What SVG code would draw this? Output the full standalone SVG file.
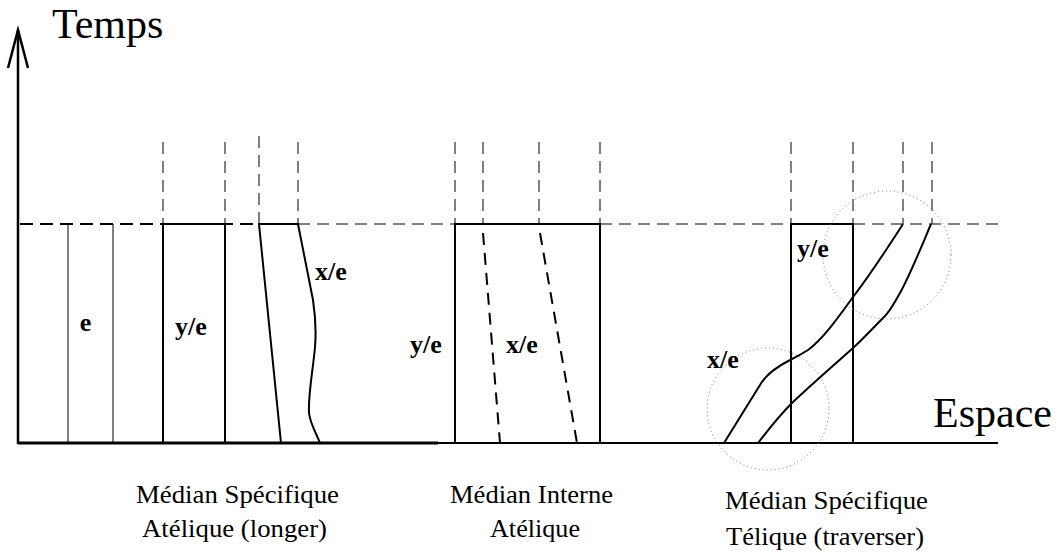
<svg xmlns="http://www.w3.org/2000/svg" width="1060" height="554" viewBox="0 0 1060 554">
<style>
.ax{stroke:#000;fill:none;stroke-linecap:butt}
.ln{stroke:#000;stroke-width:2;fill:none}
.thin{stroke:#000;stroke-width:1;fill:none}
.vd{stroke:#000;stroke-width:1;stroke-dasharray:12 7;fill:none}
.hd{stroke:#000;stroke-width:1;stroke-dasharray:12 7;fill:none}
.hdk{stroke:#000;stroke-width:2;stroke-dasharray:13 7;fill:none}
.sd{stroke:#000;stroke-width:2;stroke-dasharray:12 8;fill:none}
.dot{stroke:#777;stroke-width:1;stroke-dasharray:1 3;fill:none}
.big{font-family:"Liberation Serif","Times New Roman",serif;font-size:42px;fill:#000}
.lab{font-family:"Liberation Serif","Times New Roman",serif;font-size:26px;font-weight:bold;fill:#000;text-anchor:middle}
.cap{font-family:"Liberation Serif","Times New Roman",serif;font-size:25px;fill:#000}
</style>
<rect width="1060" height="554" fill="#fff"/>
<g id="axes">
  <line class="ax" x1="18" y1="444" x2="18" y2="30" stroke-width="2.5"/>
  <polyline class="ax" points="8,68 18,30 28,68" stroke-width="2.5"/>
  <line class="ax" x1="18" y1="443" x2="438" y2="443" stroke-width="3"/>
  <line class="ax" x1="438" y1="443" x2="998" y2="443" stroke-width="2"/>
  <line class="hdk" x1="20" y1="224" x2="259" y2="224"/>
  <line class="hd" x1="298" y1="224" x2="455" y2="224"/>
  <line class="hd" x1="600" y1="224" x2="791" y2="224"/>
  <line class="hd" x1="853" y1="224" x2="1005" y2="224"/>
  <text class="big" x="52" y="38">Temps</text>
  <text class="big" x="933" y="427">Espace</text>
</g>
<g id="node-median-specifique-atelique">
  <line class="thin" x1="68" y1="224" x2="68" y2="443"/>
  <line class="thin" x1="113" y1="224" x2="113" y2="443"/>
  <line class="ln" x1="163" y1="224" x2="163" y2="443"/>
  <line class="ln" x1="225" y1="224" x2="225" y2="443"/>
  <line class="ln" x1="163" y1="224" x2="225" y2="224"/>
  <line class="vd" x1="163" y1="142" x2="163" y2="224"/>
  <line class="vd" x1="225" y1="142" x2="225" y2="224"/>
  <line class="vd" x1="259" y1="136" x2="259" y2="224"/>
  <line class="vd" x1="298" y1="142" x2="298" y2="224"/>
  <path class="ln" d="M281,443 L259,224 L298,224 L313,300 C316,320 316,335 315,347 C313,370 308,395 309,413 C310,423 316,433 320,443"/>
  <text class="lab" x="85.5" y="331">e</text>
  <text class="lab" x="191" y="335">y/e</text>
  <text class="lab" x="331" y="280">x/e</text>
  <text class="cap" x="136" y="503" textLength="203" lengthAdjust="spacingAndGlyphs">Médian Spécifique</text>
  <text class="cap" x="142" y="537" textLength="185" lengthAdjust="spacingAndGlyphs">Atélique (longer)</text>
</g>
<g id="node-median-interne-atelique">
  <rect class="ln" x="455" y="224" width="145" height="219"/>
  <line class="vd" x1="455" y1="142" x2="455" y2="224"/>
  <line class="vd" x1="483" y1="142" x2="483" y2="224"/>
  <line class="vd" x1="539" y1="142" x2="539" y2="224"/>
  <line class="vd" x1="600" y1="142" x2="600" y2="224"/>
  <line class="sd" x1="483" y1="233" x2="500" y2="443"/>
  <line class="sd" x1="540" y1="233" x2="577" y2="443"/>
  <text class="lab" x="426" y="353">y/e</text>
  <text class="lab" x="522" y="353">x/e</text>
  <text class="cap" x="450" y="503" textLength="163" lengthAdjust="spacingAndGlyphs">Médian Interne</text>
  <text class="cap" x="490" y="537" textLength="90" lengthAdjust="spacingAndGlyphs">Atélique</text>
</g>
<g id="node-median-specifique-telique">
  <rect class="ln" x="791" y="224" width="62" height="219"/>
  <line class="vd" x1="791" y1="142" x2="791" y2="224"/>
  <line class="vd" x1="853" y1="142" x2="853" y2="224"/>
  <line class="vd" x1="903" y1="142" x2="903" y2="224"/>
  <line class="vd" x1="932" y1="142" x2="932" y2="224"/>
  <path class="ln" d="M903,224 C885,252 870,275 853,297 C838,318 822,340 808,350 C800,355 796,357 792,359 C778,366 766,374 760,385 L724,443"/>
  <path class="ln" d="M931,224 C920,250 910,275 900,293 C893,305 890,312 883,318 C873,328 863,339 853,348 C833,366 812,384 792,403 C780,415 768,430 758,443"/>
  <circle class="dot" cx="887" cy="255" r="64"/>
  <circle class="dot" cx="768" cy="409" r="61"/>
  <text class="lab" x="813" y="257">y/e</text>
  <text class="lab" x="723" y="368">x/e</text>
  <text class="cap" x="725" y="509" textLength="203" lengthAdjust="spacingAndGlyphs">Médian Spécifique</text>
  <text class="cap" x="726" y="545" textLength="198" lengthAdjust="spacingAndGlyphs">Télique (traverser)</text>
</g>
<g id="connectors"></g>
</svg>
